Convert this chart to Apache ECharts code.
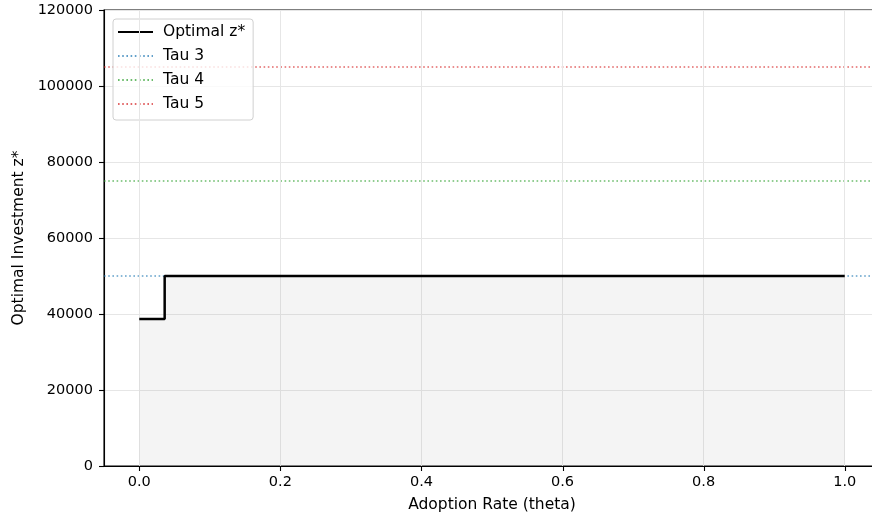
<!DOCTYPE html>
<html>
<head>
<meta charset="utf-8">
<script src="https://cdn.jsdelivr.net/npm/echarts@6/dist/echarts.min.js"></script>
<style>
  html, body { margin: 0; padding: 0; background: #fff; overflow: hidden; }
  #chart { width: 900px; height: 521px; }
</style>
</head>
<body>
<div id="chart"></div>
<script>
// Optimal investment as a step function of the adoption rate
const thetaPoints = [0.0, 0.036, 1.0];
const optimalZ = [38700, 50000, 50000];

// Threshold levels drawn as horizontal reference lines
const tauNames = ['Tau 3', 'Tau 4', 'Tau 5'];
const tauValues = [50000, 75000, 105000];
const tauColors = ['rgba(31,119,180,0.7)', 'rgba(44,160,44,0.7)', 'rgba(214,39,40,0.7)'];

const xTicks = [0.0, 0.2, 0.4, 0.6, 0.8, 1.0];
const yTicks = [0, 20000, 40000, 60000, 80000, 100000, 120000];
const xMin = -0.05, xMax = 1.05;

const font = 'DejaVu Sans';
const TICK_LEN = 5;
const chart = echarts.init(document.getElementById('chart'));

const series = [];

// Vertical grid lines at the tick positions
series.push({
  type: 'line',
  data: [],
  silent: true,
  z: 0,
  markLine: {
    silent: true,
    symbol: 'none',
    label: { show: false },
    lineStyle: { color: '#e6e6e6', width: 1, type: 'solid' },
    data: xTicks.map(v => ({ xAxis: v }))
  }
});

series.push({
  name: 'Optimal z*',
  type: 'line',
  step: 'end',
  data: thetaPoints.map((t, i) => [t, optimalZ[i]]),
  symbol: 'none',
  lineStyle: { color: '#000', width: 2.5 },
  itemStyle: { color: '#000' },
  areaStyle: { color: 'rgba(128,128,128,0.12)', origin: 'start' },
  z: 5
});

tauNames.forEach((name, i) => {
  series.push({
    name: name,
    type: 'line',
    data: [[xMin, tauValues[i]], [xMax, tauValues[i]]],
    symbol: 'none',
    lineStyle: { color: tauColors[i], width: 1.6, type: [1.6, 2.6] },
    itemStyle: { color: tauColors[i] },
    z: 3
  });
});

// Outward tick marks on the left and bottom spines
series.push({
  type: 'custom',
  silent: true,
  clip: false,
  z: 10,
  data: yTicks.map(v => [xMin, v]),
  renderItem: (params, api) => {
    const p = api.coord([api.value(0), api.value(1)]);
    return {
      type: 'line',
      shape: { x1: p[0] - TICK_LEN, y1: Math.round(p[1]) + 0.5, x2: p[0], y2: Math.round(p[1]) + 0.5 },
      style: { stroke: '#000', lineWidth: 1.1 }
    };
  }
});
series.push({
  type: 'custom',
  silent: true,
  clip: false,
  z: 10,
  data: xTicks.map(v => [v, 0]),
  renderItem: (params, api) => {
    const p = api.coord([api.value(0), api.value(1)]);
    return {
      type: 'line',
      shape: { x1: Math.round(p[0]) + 0.5, y1: p[1], x2: Math.round(p[0]) + 0.5, y2: p[1] + TICK_LEN },
      style: { stroke: '#000', lineWidth: 1.1 }
    };
  }
});

chart.setOption({
  animation: false,
  backgroundColor: '#fff',
  grid: {
    left: 104, top: 10, width: 776, height: 456,
    show: true, borderColor: '#000', borderWidth: 1.1,
    backgroundColor: 'transparent'
  },
  legend: {
    orient: 'vertical',
    left: 113, top: 19,
    padding: [5, 8, 8, 4],
    itemGap: 8,
    itemWidth: 35, itemHeight: 16,
    itemStyle: { opacity: 0 },
    backgroundColor: 'rgba(255,255,255,0.8)',
    borderColor: '#d0d0d0', borderWidth: 1, borderRadius: 3,
    textStyle: { fontFamily: font, fontSize: 15.5, color: '#000', lineHeight: 16, padding: [0, 0, 0, 5] },
    data: ['Optimal z*', ...tauNames]
  },
  xAxis: {
    type: 'value',
    min: xMin, max: xMax,
    name: 'Adoption Rate (theta)',
    nameLocation: 'middle',
    nameGap: 31,
    nameTextStyle: { fontFamily: font, fontSize: 15.5, color: '#000' },
    axisLine: { show: true, onZero: false, lineStyle: { color: '#000', width: 1.1 } },
    axisTick: { show: false },
    axisLabel: {
      customValues: xTicks, margin: 9,
      fontFamily: font, fontSize: 14.5, color: '#000',
      formatter: v => v.toFixed(1)
    },
    splitLine: { show: false }
  },
  yAxis: {
    type: 'value',
    min: 0, max: 120000, interval: 20000,
    name: 'Optimal Investment z*',
    nameLocation: 'middle',
    nameGap: 75,
    nameTextStyle: { fontFamily: font, fontSize: 15.5, color: '#000' },
    axisLine: { show: true, onZero: false, lineStyle: { color: '#000', width: 1.1 } },
    axisTick: { show: false },
    axisLabel: { margin: 11, fontFamily: font, fontSize: 14.5, color: '#000', formatter: v => String(v) },
    splitLine: { show: true, lineStyle: { color: '#e6e6e6', width: 1 } }
  },
  series: series
});
</script>
</body>
</html>
